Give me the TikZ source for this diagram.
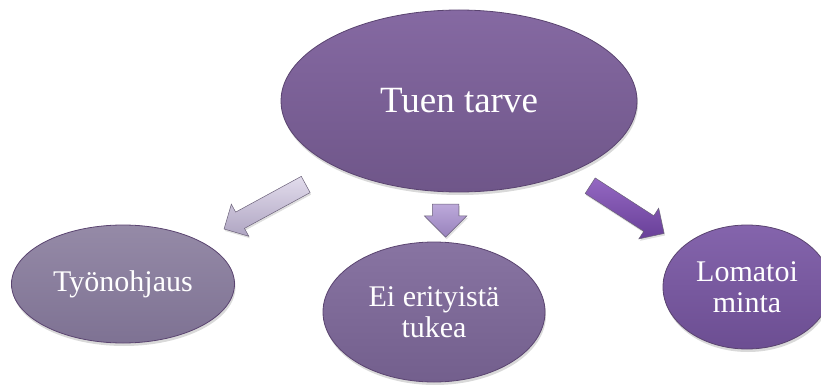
\documentclass[tikz,border=0pt]{standalone}
\usepackage{fontspec}
\setmainfont{Liberation Serif}
\usepackage{tikz}
\usetikzlibrary{shapes.geometric,shapes.arrows,shadows}

\definecolor{reuna}{HTML}{5A4470}
\definecolor{nuolireuna}{HTML}{6A6078}
\definecolor{tukiyla}{HTML}{8569A2}
\definecolor{tukiala}{HTML}{6F5689}
\definecolor{tyoyla}{HTML}{958AA7}
\definecolor{tyoala}{HTML}{7E7293}
\definecolor{eiyla}{HTML}{8874A2}
\definecolor{eiala}{HTML}{735F8D}
\definecolor{lomayla}{HTML}{8464AC}
\definecolor{lomaala}{HTML}{6C4E92}
\definecolor{nuoliAyla}{HTML}{E2DCEC}
\definecolor{nuoliAala}{HTML}{AFA5C2}
\definecolor{nuoliByla}{HTML}{BCA9DA}
\definecolor{nuoliBala}{HTML}{9882BC}
\definecolor{nuoliCyla}{HTML}{9468C2}
\definecolor{nuoliCala}{HTML}{683F98}

\begin{document}
\begin{tikzpicture}[
            x=1pt,y=-1pt,
            myellipse/.style={
            ellipse,
            draw=reuna,
            line width=0.8pt,
            inner sep=0pt,
            text=white,
            align=center,
            font=\fontsize{30}{31}\selectfont,
            drop shadow={opacity=0.3,shadow xshift=1pt,shadow yshift=-3pt}
            },
            myarrow/.style={
            single arrow,
            draw=nuolireuna,
            line width=0.5pt,
            inner xsep=0pt,
            single arrow head indent=0pt,
            drop shadow={opacity=0.25,shadow xshift=1pt,shadow yshift=-2pt}
            }
            ]
            \useasboundingbox (0,0) rectangle (821,385);
            % ellipses
            \node[myellipse,minimum width=356pt,minimum height=182pt,
              top color=tukiyla,bottom color=tukiala,
              font=\fontsize{37}{40}\selectfont] (tuki) at (459,101) {Tuen tarve};
            \node[myellipse,minimum width=223pt,minimum height=118pt,
              top color=tyoyla,bottom color=tyoala] (tyo) at (123,284) {Työnohjaus};
            \node[myellipse,minimum width=222pt,minimum height=140pt,
              top color=eiyla,bottom color=eiala] (ei) at (434,312) {Ei erityistä\\tukea};
            \node[myellipse,minimum width=168pt,minimum height=124pt,
              top color=lomayla,bottom color=lomaala] (loma) at (747,287) {Lomatoi\\minta};
            % arrows
            \path (tuki) -- node[myarrow,sloped,allow upside down,pos=0.5,
              minimum height=93pt,inner ysep=9pt,single arrow head extend=9pt,
              top color=nuoliAyla,bottom color=nuoliAala] {} (tyo);
            \path (tuki) -- node[myarrow,rotate=-90,pos=0.44,
              minimum height=33pt,inner ysep=13pt,single arrow head extend=8pt,
              top color=nuoliByla,bottom color=nuoliBala] {} (ei);
            \path (tuki) -- node[myarrow,sloped,allow upside down,pos=0.47,
              minimum height=88pt,inner ysep=9pt,single arrow head extend=9pt,
              top color=nuoliCyla,bottom color=nuoliCala] {} (loma);
        \end{tikzpicture}
\end{document}
